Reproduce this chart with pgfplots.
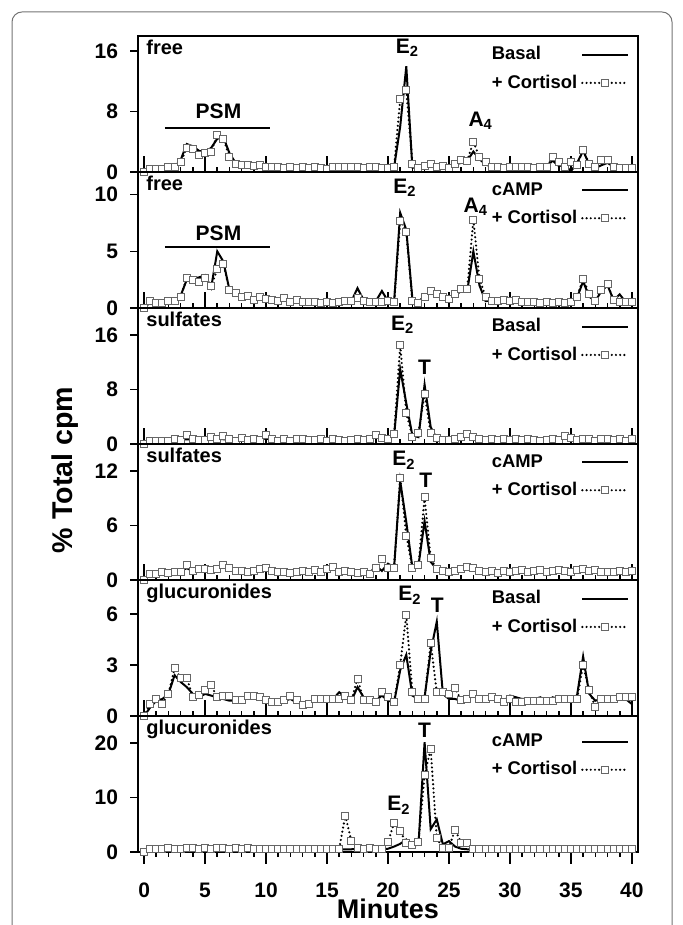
\documentclass[border=0pt]{standalone}
\usepackage{fontspec}
\setmainfont{Liberation Sans}
\usepackage{pgfplots}
\usepackage{pgfplotstable}
\pgfplotsset{compat=1.18}

% free steroids, basal / cAMP
\pgfplotstableread[row sep=\\]{
x b c \\
0 0 0 \\ 0.5 0.5 0.4 \\ 1 0.5 0.4 \\ 1.5 0.5 0.4 \\ 2 0.6 0.6 \\ 2.5 0.7 0.7 \\ 3 1.6 1.3 \\ 3.5 3.7 3.2 \\ 4 3.4 3.0 \\ 4.5 2.8 2.3 \\
5 2.6 2.5 \\ 5.5 3.2 2.7 \\ 6 4.4 4.9 \\ 6.5 4.6 4.4 \\ 7 2.5 2.0 \\ 7.5 1.2 1.1 \\ 8 0.9 0.9 \\ 8.5 0.8 0.9 \\ 9 0.8 0.8 \\ 9.5 0.7 0.9 \\
10 0.8 0.6 \\ 10.5 0.6 0.6 \\ 11 0.6 0.7 \\ 11.5 0.7 0.5 \\ 12 0.5 0.6 \\ 12.5 0.5 0.5 \\ 13 0.5 0.6 \\ 13.5 0.5 0.5 \\ 14 0.6 0.6 \\ 14.5 0.5 0.5 \\
15 0.5 0.4 \\ 15.5 0.5 0.6 \\ 16 0.5 0.6 \\ 16.5 0.6 0.6 \\ 17 0.6 0.6 \\ 17.5 0.6 0.6 \\ 18 0.5 0.5 \\ 18.5 0.6 0.6 \\ 19 0.5 0.6 \\ 19.5 0.5 0.5 \\
20 0.5 0.5 \\ 20.5 0.6 0.7 \\ 21 6.0 9.6 \\ 21.5 14.0 10.8 \\ 22 0.6 1.1 \\ 22.5 0.5 0.5 \\ 23 0.6 0.8 \\ 23.5 0.8 1.1 \\ 24 0.7 0.6 \\ 24.5 0.6 0.8 \\
25 0.7 0.5 \\ 25.5 1.0 1.1 \\ 26 1.2 1.6 \\ 26.5 1.5 1.5 \\ 27 2.7 4.0 \\ 27.5 1.7 2.0 \\ 28 1.0 1.3 \\ 28.5 0.7 0.7 \\ 29 0.6 0.6 \\ 29.5 0.6 0.5 \\
30 0.6 0.7 \\ 30.5 0.6 0.7 \\ 31 0.7 0.7 \\ 31.5 0.6 0.7 \\ 32 0.6 0.5 \\ 32.5 0.6 0.6 \\ 33 0.7 0.6 \\ 33.5 1.5 2.0 \\ 34 0.8 1.3 \\ 34.5 0.9 0.6 \\
35 0.1 1.3 \\ 35.5 1.2 0.9 \\ 36 2.8 2.9 \\ 36.5 1.0 1.1 \\ 37 0.5 0.6 \\ 37.5 0.9 1.6 \\ 38 1.2 1.6 \\ 38.5 0.7 0.6 \\ 39 0.5 0.5 \\ 39.5 0.5 0.5 \\
40 0.5 0.5 \\
}\tfa
\pgfplotstableread[row sep=\\]{
x b c \\
0 0 0 \\ 0.5 0.5 0.65 \\ 1 0.4 0.45 \\ 1.5 0.4 0.45 \\ 2 0.6 0.6 \\ 2.5 0.7 0.65 \\ 3 1.1 0.95 \\ 3.5 2.5 2.65 \\ 4 2.6 2.5 \\ 4.5 2.7 2.3 \\
5 2.9 2.65 \\ 5.5 1.8 1.9 \\ 6 5.0 3.4 \\ 6.5 4.1 3.9 \\ 7 1.6 1.6 \\ 7.5 1.3 1.3 \\ 8 1.1 0.95 \\ 8.5 0.8 1.1 \\ 9 0.9 0.7 \\ 9.5 0.8 1.0 \\
10 0.7 0.8 \\ 10.5 0.6 0.7 \\ 11 0.6 0.6 \\ 11.5 0.7 0.9 \\ 12 0.6 0.5 \\ 12.5 0.5 0.7 \\ 13 0.6 0.5 \\ 13.5 0.5 0.5 \\ 14 0.5 0.5 \\ 14.5 0.5 0.4 \\
15 0.5 0.5 \\ 15.5 0.5 0.4 \\ 16 0.5 0.5 \\ 16.5 0.5 0.6 \\ 17 0.6 0.6 \\ 17.5 1.75 0.9 \\ 18 0.7 0.6 \\ 18.5 0.6 0.5 \\ 19 0.6 0.5 \\ 19.5 1.5 0.5 \\
20 0.6 0.6 \\ 20.5 0.5 0.5 \\ 21 8.4 7.7 \\ 21.5 6.9 6.7 \\ 22 0.8 0.6 \\ 22.5 0.6 0.45 \\ 23 1.0 1.0 \\ 23.5 1.4 1.5 \\ 24 1.2 1.2 \\ 24.5 0.9 0.95 \\
25 0.8 0.75 \\ 25.5 1.1 1.2 \\ 26 1.5 1.7 \\ 26.5 1.5 1.7 \\ 27 5.0 7.8 \\ 27.5 2.0 2.6 \\ 28 0.6 1.0 \\ 28.5 0.7 0.65 \\ 29 0.6 0.6 \\ 29.5 0.7 0.7 \\
30 0.6 0.6 \\ 30.5 0.6 0.7 \\ 31 0.6 0.5 \\ 31.5 0.5 0.5 \\ 32 0.5 0.5 \\ 32.5 0.5 0.4 \\ 33 0.5 0.5 \\ 33.5 0.5 0.4 \\ 34 0.5 0.5 \\ 34.5 0.5 0.4 \\
35 0.5 0.5 \\ 35.5 0.9 1.0 \\ 36 2.35 2.6 \\ 36.5 1.0 1.2 \\ 37 0.6 0.6 \\ 37.5 1.5 1.6 \\ 38 2.0 2.1 \\ 38.5 0.7 0.7 \\ 39 1.2 0.5 \\ 39.5 0.5 0.5 \\
40 0.5 0.5 \\
}\tfb
% sulfates
\pgfplotstableread[row sep=\\]{
x b c \\
0 0 0 \\ 0.5 0.5 0.5 \\ 1 0.5 0.4 \\ 1.5 0.5 0.5 \\ 2 0.6 0.5 \\ 2.5 0.6 0.7 \\ 3 0.6 0.6 \\ 3.5 0.7 1.3 \\ 4 0.6 0.7 \\ 4.5 0.6 0.6 \\
5 0.6 0.6 \\ 5.5 0.7 1.1 \\ 6 0.7 0.8 \\ 6.5 0.7 1.2 \\ 7 0.6 0.8 \\ 7.5 0.6 0.5 \\ 8 0.6 0.9 \\ 8.5 0.6 0.6 \\ 9 0.6 0.8 \\ 9.5 0.7 0.6 \\
10 0.8 1.3 \\ 10.5 0.6 0.7 \\ 11 0.6 0.5 \\ 11.5 0.5 0.8 \\ 12 0.6 0.5 \\ 12.5 0.6 0.7 \\ 13 0.5 0.8 \\ 13.5 0.6 0.6 \\ 14 0.6 0.6 \\ 14.5 0.6 0.8 \\
15 0.6 0.5 \\ 15.5 0.6 0.8 \\ 16 0.6 0.6 \\ 16.5 0.6 0.5 \\ 17 0.6 0.6 \\ 17.5 0.6 0.7 \\ 18 0.6 0.6 \\ 18.5 0.7 0.7 \\ 19 1.0 1.35 \\ 19.5 0.8 0.9 \\
20 0.7 0.75 \\ 20.5 1.2 1.4 \\ 21 11.0 14.5 \\ 21.5 6.0 4.6 \\ 22 1.25 1.0 \\ 22.5 1.0 1.6 \\ 23 8.75 7.4 \\ 23.5 2.5 1.6 \\ 24 0.8 0.9 \\ 24.5 0.6 0.6 \\
25 0.6 0.6 \\ 25.5 0.7 0.7 \\ 26 0.9 1.0 \\ 26.5 1.2 1.5 \\ 27 0.8 1.1 \\ 27.5 0.7 0.7 \\ 28 0.6 0.6 \\ 28.5 0.6 0.8 \\ 29 0.6 0.6 \\ 29.5 0.6 0.7 \\
30 0.7 0.6 \\ 30.5 0.6 0.8 \\ 31 0.6 0.6 \\ 31.5 0.6 0.7 \\ 32 0.6 0.6 \\ 32.5 0.6 0.5 \\ 33 0.6 0.6 \\ 33.5 0.7 0.8 \\ 34 0.7 0.6 \\ 34.5 0.8 1.2 \\
35 0.7 0.9 \\ 35.5 0.6 0.6 \\ 36 0.6 0.7 \\ 36.5 0.7 0.8 \\ 37 0.6 0.5 \\ 37.5 0.7 0.7 \\ 38 0.6 0.8 \\ 38.5 0.7 0.6 \\ 39 0.7 0.8 \\ 39.5 0.6 0.5 \\
40 0.7 0.7 \\
}\tfc
\pgfplotstableread[row sep=\\]{
x b c \\
0 0 0 \\ 0.5 0.7 0.7 \\ 1 0.8 0.7 \\ 1.5 0.9 0.9 \\ 2 0.8 0.8 \\ 2.5 0.9 0.9 \\ 3 1.0 0.9 \\ 3.5 1.3 1.6 \\ 4 1.0 1.0 \\ 4.5 1.2 1.2 \\
5 1.0 1.2 \\ 5.5 1.4 1.1 \\ 6 1.2 1.2 \\ 6.5 1.8 1.6 \\ 7 1.2 1.3 \\ 7.5 1.0 1.0 \\ 8 1.0 1.0 \\ 8.5 0.9 0.9 \\ 9 1.0 1.0 \\ 9.5 1.0 1.2 \\
10 1.1 1.3 \\ 10.5 1.0 1.0 \\ 11 0.9 0.9 \\ 11.5 0.9 0.9 \\ 12 1.0 0.8 \\ 12.5 0.9 0.9 \\ 13 0.9 1.0 \\ 13.5 1.0 0.9 \\ 14 1.0 1.1 \\ 14.5 1.0 0.9 \\
15 1.0 1.2 \\ 15.5 1.2 1.4 \\ 16 1.0 0.9 \\ 16.5 0.9 1.0 \\ 17 0.9 0.9 \\ 17.5 0.9 0.8 \\ 18 0.8 0.9 \\ 18.5 0.7 0.7 \\ 19 1.6 1.3 \\ 19.5 1.0 2.35 \\
20 1.8 1.35 \\ 20.5 1.4 1.35 \\ 21 10.9 11.3 \\ 21.5 6.4 4.9 \\ 22 1.35 1.35 \\ 22.5 1.6 1.6 \\ 23 6.5 9.1 \\ 23.5 2.0 2.4 \\ 24 1.2 1.2 \\ 24.5 1.0 1.0 \\
25 1.0 0.9 \\ 25.5 1.0 1.0 \\ 26 1.1 1.2 \\ 26.5 1.2 1.4 \\ 27 1.1 1.3 \\ 27.5 1.0 1.0 \\ 28 0.9 0.9 \\ 28.5 0.9 1.0 \\ 29 1.0 0.8 \\ 29.5 1.0 1.0 \\
30 1.0 0.9 \\ 30.5 1.0 1.0 \\ 31 1.0 1.1 \\ 31.5 1.0 0.9 \\ 32 1.0 1.0 \\ 32.5 1.0 1.1 \\ 33 1.0 0.9 \\ 33.5 1.0 1.0 \\ 34 1.0 1.1 \\ 34.5 1.0 1.0 \\
35 1.1 0.9 \\ 35.5 1.0 1.1 \\ 36 1.1 1.2 \\ 36.5 1.0 1.0 \\ 37 1.0 1.1 \\ 37.5 0.9 0.9 \\ 38 1.0 0.9 \\ 38.5 0.9 0.9 \\ 39 0.9 1.0 \\ 39.5 1.0 0.9 \\
40 1.0 1.0 \\
}\tfd
% glucuronides
\pgfplotstableread[row sep=\\]{
x b c \\
0 0 0 \\ 0.5 0.5 0.73 \\ 1 0.9 1.0 \\ 1.5 1.0 0.73 \\ 2 1.3 1.3 \\ 2.5 2.4 2.85 \\ 3 2.0 2.25 \\ 3.5 1.7 2.25 \\ 4 1.3 1.1 \\ 4.5 1.1 1.25 \\
5 1.3 1.5 \\ 5.5 1.2 1.8 \\ 6 1.1 1.1 \\ 6.5 1.0 1.2 \\ 7 0.9 1.2 \\ 7.5 0.9 0.93 \\ 8 1.0 0.93 \\ 8.5 1.0 1.2 \\ 9 1.1 1.2 \\ 9.5 1.0 1.1 \\
10 0.9 0.93 \\ 10.5 0.9 0.83 \\ 11 0.8 0.83 \\ 11.5 0.9 0.93 \\ 12 1.0 1.2 \\ 12.5 0.8 0.93 \\ 13 0.7 0.67 \\ 13.5 0.8 0.73 \\ 14 0.9 1.0 \\ 14.5 1.0 1.0 \\
15 0.9 1.0 \\ 15.5 1.0 1.0 \\ 16 1.4 1.0 \\ 16.5 1.1 1.2 \\ 17 0.9 0.93 \\ 17.5 1.7 2.2 \\ 18 1.1 0.93 \\ 18.5 0.9 0.93 \\ 19 0.9 0.83 \\ 19.5 1.2 1.4 \\
20 0.9 1.1 \\ 20.5 0.8 0.83 \\ 21 2.7 3.0 \\ 21.5 3.6 5.95 \\ 22 1.2 1.4 \\ 22.5 1.0 1.0 \\ 23 1.1 1.0 \\ 23.5 3.8 4.3 \\ 24 5.55 1.4 \\ 24.5 1.3 1.4 \\
25 1.0 1.3 \\ 25.5 1.0 1.65 \\ 26 0.9 0.93 \\ 26.5 1.0 1.0 \\ 27 1.2 1.3 \\ 27.5 1.0 1.0 \\ 28 1.0 1.0 \\ 28.5 1.0 1.1 \\ 29 1.0 1.0 \\ 29.5 0.9 0.8 \\
30 1.2 1.0 \\ 30.5 1.1 0.8 \\ 31 1.0 0.8 \\ 31.5 1.0 0.9 \\ 32 1.0 0.9 \\ 32.5 1.1 0.9 \\ 33 0.8 0.9 \\ 33.5 1.1 0.9 \\ 34 1.0 1.0 \\ 34.5 1.0 1.0 \\
35 1.1 1.0 \\ 35.5 1.2 1.0 \\ 36 3.5 3.0 \\ 36.5 1.3 1.5 \\ 37 0.9 0.53 \\ 37.5 1.0 1.0 \\ 38 1.0 1.0 \\ 38.5 1.1 1.0 \\ 39 1.0 1.1 \\ 39.5 1.0 1.1 \\
40 0.7 1.1 \\
}\tfe
\pgfplotstableread[row sep=\\]{
x b c \\
0 0 0 \\ 0.5 0.4 0.5 \\ 1 0.5 0.5 \\ 1.5 0.5 0.5 \\ 2 0.6 0.8 \\ 2.5 0.6 0.5 \\ 3 0.7 0.5 \\ 3.5 0.8 0.7 \\ 4 0.9 0.7 \\ 4.5 0.8 0.6 \\
5 0.7 0.7 \\ 5.5 0.8 0.5 \\ 6 1.0 0.7 \\ 6.5 0.8 0.7 \\ 7 0.9 0.6 \\ 7.5 1.0 0.7 \\ 8 0.8 0.6 \\ 8.5 0.7 0.7 \\ 9 0.7 0.5 \\ 9.5 0.6 0.5 \\
10 0.6 0.5 \\ 10.5 0.5 0.5 \\ 11 0.5 0.6 \\ 11.5 0.5 0.5 \\ 12 0.5 0.6 \\ 12.5 0.5 0.5 \\ 13 0.5 0.6 \\ 13.5 0.5 0.5 \\ 14 0.5 0.5 \\ 14.5 0.5 0.6 \\
15 0.5 0.5 \\ 15.5 0.5 0.5 \\ 16 0.4 0.6 \\ 16.5 0.5 6.7 \\ 17 0.5 2.0 \\ 17.5 0.6 0.8 \\ 18 0.5 0.6 \\ 18.5 0.5 0.7 \\ 19 0.5 0.6 \\ 19.5 0.5 0.6 \\
20 0.6 1.85 \\ 20.5 1.0 5.4 \\ 21 1.5 3.9 \\ 21.5 2.3 1.6 \\ 22 1.1 1.2 \\ 22.5 1.4 1.9 \\ 23 20.2 14.1 \\ 23.5 4.2 19.0 \\ 24 6.0 2.5 \\ 24.5 1.4 0.8 \\
25 2.0 0.8 \\ 25.5 1.0 4.1 \\ 26 0.6 1.7 \\ 26.5 0.5 1.7 \\ 27 0.5 0.5 \\ 27.5 0.5 0.5 \\ 28 0.5 0.5 \\ 28.5 0.5 0.5 \\ 29 0.5 0.5 \\ 29.5 0.5 0.5 \\
30 0.5 0.5 \\ 30.5 0.5 0.5 \\ 31 0.5 0.5 \\ 31.5 0.5 0.5 \\ 32 0.5 0.5 \\ 32.5 0.5 0.5 \\ 33 0.5 0.5 \\ 33.5 0.5 0.5 \\ 34 0.5 0.5 \\ 34.5 0.5 0.5 \\
35 0.5 0.5 \\ 35.5 0.5 0.6 \\ 36 0.6 0.5 \\ 36.5 0.7 0.6 \\ 37 0.8 0.6 \\ 37.5 1.0 0.6 \\ 38 0.7 0.5 \\ 38.5 0.6 0.5 \\ 39 0.5 0.5 \\ 39.5 0.5 0.6 \\
40 0.5 0.6 \\
}\tff

\newcommand\tickfont{\bfseries\fontsize{10.5}{11}\selectfont}
\newcommand\annfont{\bfseries\fontsize{10.5}{11}\selectfont}

\tikzset{
  lab/.style={anchor=north west, font=\bfseries\fontsize{10}{11}\selectfont, inner sep=1pt},
  ann/.style={font=\annfont, inner sep=0pt},
}
\pgfplotsset{
  /pgf/number format/assume math mode=true,
  panel/.style={
    scale only axis, width=250pt, height=68pt, anchor=south west,
    xmin=-0.5, xmax=40.5, ymin=0,
    xtick distance=5, minor x tick num=4,
    xtick pos=bottom, ytick pos=left,
    tick align=inside, major tick length=8pt, minor tick length=2.5pt,
    xticklabels={},
    ytick=\empty,
    extra y tick style={tick align=outside, major tick length=4pt},
    axis line style={line width=0.8pt},
    tick style={black, line width=0.8pt},
    tick label style={font=\tickfont},
    yticklabel style={xshift=-2.5pt},
    legend style={draw=none, fill=none, font=\bfseries\fontsize{9.2}{10}\selectfont,
      at={(0.995,0.985)}, anchor=north east, row sep=2pt},
    legend cell align=left, legend plot pos=right,
    legend image code/.code={\draw[mark repeat=2,mark phase=2,##1] plot coordinates {(0cm,0cm) (0.4cm,0cm) (0.8cm,0cm)};},
  },
  basal/.style={black, line width=1pt, no markers},
  cort/.style={black, line width=1.2pt, dash pattern=on 0pt off 2.1pt, line cap=round,
    mark=square*, mark size=1.75pt,
    mark options={solid, fill=white, draw=black!60, line width=0.5pt}},
}

\begin{document}
\begin{tikzpicture}
\useasboundingbox (0,0) rectangle (341.5pt,462.5pt);
\draw[black!55, line width=0.5pt, rounded corners=5pt] (6pt,-30pt) -- (6pt,456.5pt) -- (336pt,456.5pt) -- (336pt,-30pt);

\begin{axis}[panel, at={(69pt,376.5pt)}, ymax=18, extra y ticks={0,8,16}]
\addplot[basal] table[x=x,y=b]{\tfa};
\addplot[cort] table[x=x,y=c]{\tfa};
\legend{Basal,+ Cortisol}
\node[lab] at (rel axis cs:0.012,0.985) {free};
\node[ann] at (axis cs:21.6,16.4) {E\textsubscript{2}};
\node[ann] at (axis cs:27.6,6.75) {A\textsubscript{4}};
\node[ann] at (axis cs:6.1,8.0) {PSM};
\draw[line width=1pt] (axis cs:1.7,5.8) -- (axis cs:10.3,5.8);
\end{axis}

\begin{axis}[panel, at={(69pt,308.5pt)}, ymax=12, extra y ticks={0,5,10}]
\addplot[basal] table[x=x,y=b]{\tfb};
\addplot[cort] table[x=x,y=c]{\tfb};
\legend{cAMP,+ Cortisol}
\node[lab] at (rel axis cs:0.012,0.985) {free};
\node[ann] at (axis cs:21.4,10.6) {E\textsubscript{2}};
\node[ann] at (axis cs:27.2,8.9) {A\textsubscript{4}};
\node[ann] at (axis cs:6.1,6.6) {PSM};
\draw[line width=1pt] (axis cs:1.7,5.35) -- (axis cs:10.3,5.35);
\end{axis}

\begin{axis}[panel, at={(69pt,240.5pt)}, ymax=20, extra y ticks={0,8,16}]
\addplot[basal] table[x=x,y=b]{\tfc};
\addplot[cort] table[x=x,y=c]{\tfc};
\legend{Basal,+ Cortisol}
\node[lab] at (rel axis cs:0.012,0.985) {sulfates};
\node[ann] at (axis cs:21.2,17.5) {E\textsubscript{2}};
\node[ann] at (axis cs:23.0,11.3) {T};
\end{axis}

\begin{axis}[panel, at={(69pt,172.5pt)}, ymax=15, extra y ticks={0,6,12}]
\addplot[basal] table[x=x,y=b]{\tfd};
\addplot[cort] table[x=x,y=c]{\tfd};
\legend{cAMP,+ Cortisol}
\node[lab] at (rel axis cs:0.012,0.985) {sulfates};
\node[ann] at (axis cs:21.3,13.2) {E\textsubscript{2}};
\node[ann] at (axis cs:23.1,11.0) {T};
\end{axis}

\begin{axis}[panel, at={(69pt,104.5pt)}, ymax=8, extra y ticks={0,3,6}]
\addplot[basal] table[x=x,y=b]{\tfe};
\addplot[cort] table[x=x,y=c]{\tfe};
\legend{Basal,+ Cortisol}
\node[lab] at (rel axis cs:0.012,0.985) {glucuronides};
\node[ann] at (axis cs:21.8,7.1) {E\textsubscript{2}};
\node[ann] at (axis cs:24.05,6.5) {T};
\end{axis}

\begin{axis}[panel, at={(69pt,36.5pt)}, ymax=25, extra y ticks={0,10,20},
  tick align=outside, major tick length=6pt, minor tick length=2.5pt,
  xticklabel style={yshift=-6pt},
  xtick={0,5,...,40}, xticklabels={0,5,10,15,20,25,30,35,40},
  xlabel={Minutes}, xlabel style={font=\bfseries\fontsize{13.5}{14}\selectfont, inner sep=0pt, at={(axis description cs:0.5,0)}, anchor=center, yshift=-28.5pt},
  legend style={at={(0.995,0.93)}}]
\addplot[basal] table[x=x,y=b]{\tff};
\addplot[cort] table[x=x,y=c]{\tff};
\legend{cAMP,+ Cortisol}
\node[lab] at (rel axis cs:0.012,0.985) {glucuronides};
\node[ann] at (axis cs:20.9,8.6) {E\textsubscript{2}};
\node[ann] at (axis cs:23.0,22.4) {T};
\end{axis}

\node[rotate=90, font=\bfseries\fontsize{14.3}{15}\selectfont] at (32.5pt,227.5pt) {\% Total cpm};
\end{tikzpicture}
\end{document}
